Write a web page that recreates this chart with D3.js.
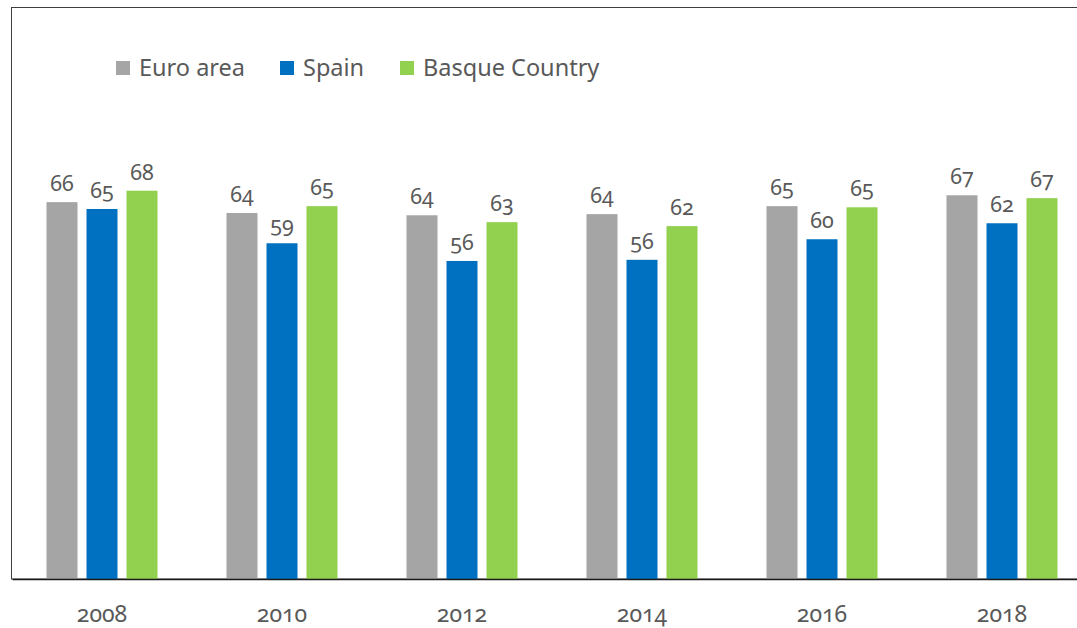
<!DOCTYPE html>
<html>
<head>
<meta charset="utf-8">
<script src="https://cdn.jsdelivr.net/npm/d3@7"></script>
<style>
    body { margin:0; background:#fff; }
    svg text { font-family:"Noto Sans", "Open Sans", sans-serif; fill:#595959; font-variant-numeric:oldstyle-nums; }
</style>
</head>
<body>
<svg id="chart" width="1077" height="628"></svg>
<script>
    var years = ["2008", "2010", "2012", "2014", "2016", "2018"];
    var series = ["Euro area", "Spain", "Basque Country"];
    var euroArea = [66.0, 64.1, 63.7, 63.9, 65.3, 67.2];
    var spain = [64.8, 58.8, 55.7, 55.9, 59.5, 62.3];
    var basque = [68.0, 65.3, 62.5, 61.8, 65.1, 66.7];
    var colors = ["#a5a5a5", "#0070c0", "#92d050"];

    var values = [euroArea, spain, basque];
    var svg = d3.select("#chart");

    var plotLeft = 12, plotRight = 1092, plotTop = 8, plotBottom = 579;

    var x0 = d3.scaleBand().domain(years).range([plotLeft, plotRight])
        .paddingInner(69/180).paddingOuter(69/360);
    var x1 = d3.scaleBand().domain(series).range([0, x0.bandwidth()])
        .paddingInner(0.225).paddingOuter(0);
    var y = d3.scaleLinear().domain([0, 100]).range([plotBottom, plotTop]);

    // frame
    svg.append("rect")
        .attr("x", 11.5).attr("y", 7.5)
        .attr("width", 1100).attr("height", plotBottom - 7.5)
        .attr("fill", "none").attr("stroke", "#3f3f3f").attr("stroke-width", 1);

    var groups = svg.selectAll("g.year").data(years).enter().append("g")
        .attr("class", "year")
        .attr("transform", function(d){ return "translate(" + x0(d) + ",0)"; });

    groups.selectAll("rect").data(function(d, i){
        return series.map(function(s, j){ return {s:s, v:values[j][i], c:colors[j]}; });
    }).enter().append("rect")
        .attr("x", function(d){ return x1(d.s); })
        .attr("y", function(d){ return y(d.v); })
        .attr("width", x1.bandwidth())
        .attr("height", function(d){ return plotBottom - y(d.v); })
        .attr("fill", function(d){ return d.c; });

    groups.selectAll("text.val").data(function(d, i){
        return series.map(function(s, j){ return {s:s, v:values[j][i]}; });
    }).enter().append("text")
        .attr("class", "val")
        .attr("x", function(d){ return x1(d.s) + x1.bandwidth()/2; })
        .attr("y", function(d){ return y(d.v) - 11; })
        .attr("text-anchor", "middle")
        .attr("font-size", 21.5)
        .text(function(d){ return Math.round(d.v); });

    // axis
    var xAxis = d3.axisBottom(x0).tickSize(0).tickPadding(27);
    var ax = svg.append("g").attr("transform", "translate(0," + plotBottom + ")").call(xAxis);
    ax.select(".domain").attr("stroke", "#1a1a1a").attr("stroke-width", 1.3);
    ax.selectAll("text").attr("font-size", 23).attr("fill", "#595959")
        .style("font-family", "\"Noto Sans\", sans-serif");

    // legend
    var legendX = [116, 280, 400];
    var legend = svg.selectAll("g.legend").data(series).enter().append("g")
        .attr("class", "legend")
        .attr("transform", function(d, i){ return "translate(" + legendX[i] + ",61)"; });
    legend.append("rect").attr("width", 14).attr("height", 14)
        .attr("fill", function(d, i){ return colors[i]; });
    legend.append("text").attr("x", 23).attr("y", 15)
        .attr("font-size", 23.5)
        .text(function(d){ return d; });
</script>
</body>
</html>
